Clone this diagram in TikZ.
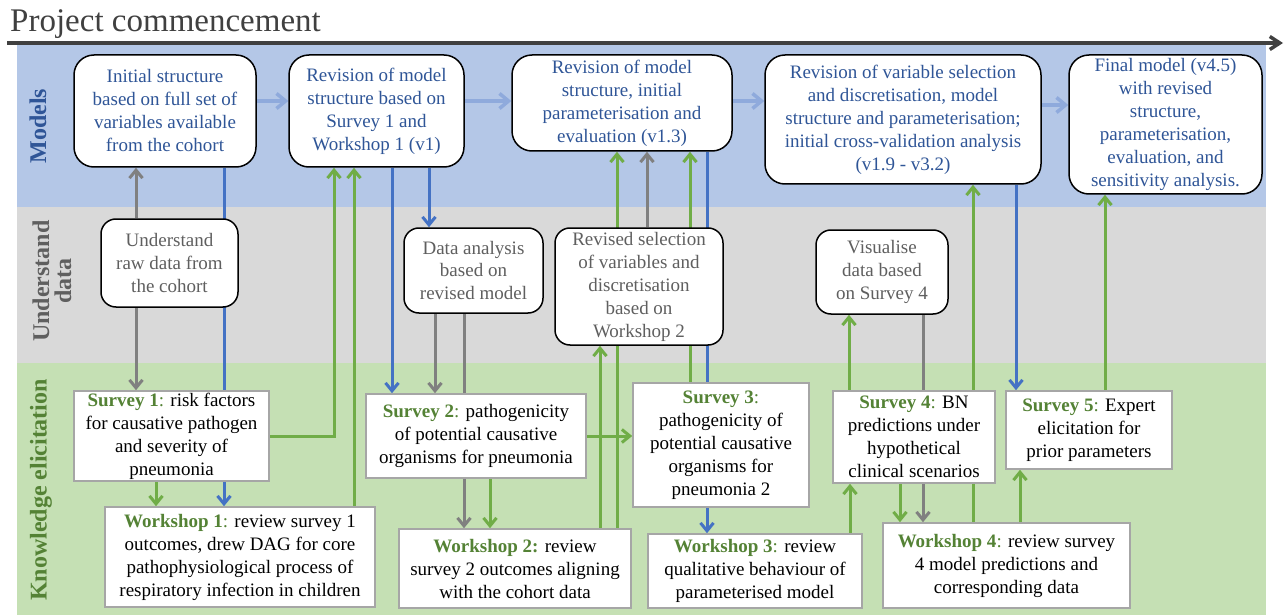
\documentclass[tikz,border=0pt]{standalone}
\usepackage{fontspec}
\setmainfont{Liberation Serif}
\usetikzlibrary{arrows.meta}
\definecolor{modblue}{RGB}{47,85,151}
\definecolor{bandblue}{RGB}{180,199,231}
\definecolor{bandgray}{RGB}{217,217,217}
\definecolor{bandgreen}{RGB}{197,224,180}
\definecolor{lineblue}{RGB}{68,114,196}
\definecolor{paleblue}{RGB}{143,170,220}
\definecolor{linegreen}{RGB}{112,173,71}
\definecolor{linegray}{RGB}{128,128,128}
\definecolor{labgreen}{RGB}{84,130,53}
\definecolor{datgray}{RGB}{95,95,95}
\definecolor{titlegray}{RGB}{64,64,64}
\definecolor{kborder}{RGB}{166,166,166}
\pgfdeclarelayer{bands}
\pgfdeclarelayer{wires}
\pgfsetlayers{bands,wires,main}
\newcommand{\klab}[1]{\textcolor{labgreen}{\textbf{#1}}}

\begin{document}
\begin{tikzpicture}[
            x=1pt, y=-1pt,
            every node/.style={font=\fontsize{19}{23}\selectfont},
            mbox/.style={draw, rectangle, line width=1.5pt, rounded corners=20pt,
                       fill=white, text=modblue, align=center, inner sep=0pt},
            dbox/.style={draw, rectangle, line width=1.5pt, rounded corners=15pt,
                       fill=white, text=datgray, align=center, inner sep=0pt},
            kbox/.style={draw=kborder, rectangle, line width=1.5pt,
                       fill=white, text=black, align=center, inner sep=0pt},
            rowlabel/.style={rotate=90, align=center, inner sep=0pt,
                       font=\fontsize{24}{22}\selectfont\bfseries},
            barrow/.style={-{Straight Barb[length=8pt,width=13pt]}, line width=3pt, color=lineblue},
            garrow/.style={-{Straight Barb[length=8pt,width=13pt]}, line width=3pt, color=linegreen},
            grarrow/.style={-{Straight Barb[length=8pt,width=13pt]}, line width=3pt, color=linegray},
            larrow/.style={-{Straight Barb[length=9pt,width=15pt]}, line width=3.5pt, color=paleblue}
        ]
            \useasboundingbox (0,0) rectangle (1286,615);

            % Rows
            \begin{pgfonlayer}{bands}
            \fill[bandblue] (17,45) rectangle (1266,207);
            \fill[bandgray] (17,207) rectangle (1266,363);
            \fill[bandgreen] (17,363) rectangle (1266,615);
            \end{pgfonlayer}

            \node[anchor=base west, inner sep=0pt, text=titlegray,
                  font=\fontsize{33}{40}\selectfont] (title) at (10,32) {Project commencement};
            \coordinate (tstart) at (7,43);
            \coordinate (tend) at (1283,43);
            \draw[-{Straight Barb[length=10pt,width=13pt]}, line width=3.5pt, color=titlegray] (tstart) -- (tend);

            \node[rowlabel, text=modblue] (lmodels) at (38,126) {Models};
            \node[rowlabel, text=datgray] (ldata) at (52,281) {Understand\\data};
            \node[rowlabel, text=labgreen] (lknow) at (41,490) {Knowledge elicitation};

            % Models
            \node[mbox, minimum width=182pt, minimum height=112pt] (init) at (165,111)
                {Initial structure\\based on full set of\\variables available\\from the cohort};
            \node[mbox, minimum width=175pt, minimum height=112pt] (rev1) at (376.5,111)
                {Revision of model\\structure based on\\Survey 1 and\\Workshop 1 (v1)};
            \node[mbox, minimum width=220pt, minimum height=96pt] (rev13) at (622,103)
                {Revision of model\\structure, initial\\parameterisation and\\evaluation (v1.3)};
            \node[mbox, minimum width=276pt, minimum height=129pt] (rev19) at (903,119.5)
                {Revision of variable selection\\and discretisation, model\\structure and parameterisation;\\initial cross-validation analysis\\(v1.9 - v3.2)};
            \node[mbox, minimum width=193pt, minimum height=139pt] (final) at (1165.5,124.5)
                {Final model (v4.5)\\with revised\\structure,\\parameterisation,\\evaluation, and\\sensitivity analysis.};

            % Understand data
            \node[dbox, minimum width=137pt, minimum height=88pt] (raw) at (169.5,263)
                {Understand\\raw data from\\the cohort};
            \node[dbox, minimum width=139pt, minimum height=85pt] (dana) at (473.5,270.5)
                {Data analysis\\based on\\revised model};
            \node[dbox, minimum width=168pt, minimum height=117pt] (revsel) at (639,286.5)
                {Revised selection\\of variables and\\discretisation\\based on\\Workshop 2};
            \node[dbox, minimum width=132pt, minimum height=84pt] (vis) at (882,272)
                {Visualise\\data based\\on Survey 4};

            % Knowledge elicitation
            \node[kbox, minimum width=195pt, minimum height=90pt] (s1) at (171.5,436)
                {\klab{Survey 1}\textcolor{labgreen}{:} risk factors\\for causative pathogen\\and severity of\\pneumonia};
            \node[kbox, minimum width=270pt, minimum height=100pt] (w1) at (240,557)
                {\klab{Workshop 1}\textcolor{labgreen}{:} review survey 1\\outcomes, drew DAG for core\\pathophysiological process of\\respiratory infection in children};
            \node[kbox, minimum width=220pt, minimum height=84pt] (s2) at (476,436)
                {\klab{Survey 2}\textcolor{labgreen}{:} pathogenicity\\of potential causative\\organisms for pneumonia};
            \node[kbox, minimum width=232pt, minimum height=79pt] (w2) at (515,568.5)
                {\klab{Workshop 2:} review\\survey 2 outcomes aligning\\with the cohort data};
            \node[kbox, minimum width=176pt, minimum height=124pt] (s3) at (721,445)
                {\klab{Survey 3}\textcolor{labgreen}{:}\\pathogenicity of\\potential causative\\organisms for\\pneumonia 2};
            \node[kbox, minimum width=214pt, minimum height=74pt] (w3) at (755,571)
                {\klab{Workshop 3}\textcolor{labgreen}{:} review\\qualitative behaviour of\\parameterised model};
            \node[kbox, minimum width=162pt, minimum height=92pt] (s4) at (914,437)
                {\klab{Survey 4}\textcolor{labgreen}{:} BN\\predictions under\\hypothetical\\clinical scenarios};
            \node[kbox, minimum width=247pt, minimum height=85pt] (w4) at (1006.5,565.5)
                {\klab{Workshop 4}\textcolor{labgreen}{:} review survey\\4 model predictions and\\corresponding data};
            \node[kbox, minimum width=166pt, minimum height=78pt] (s5) at (1089,430)
                {\klab{Survey 5}\textcolor{labgreen}{:} Expert\\elicitation for\\prior parameters};

            \begin{pgfonlayer}{wires}
            % Model versions
            \draw[larrow] (init.east |- 0,101) -- (rev1.west |- 0,101);
            \draw[larrow] (rev1.east |- 0,101) -- (rev13.west |- 0,101);
            \draw[larrow] (rev13.east |- 0,101) -- (rev19.west |- 0,101);
            \draw[larrow] (rev19.east |- 0,105) -- (final.west |- 0,105);

            % Links between rows
            \draw[grarrow] (raw.north -| 136,0) -- (init.south -| 136,0);
            \draw[grarrow] (raw.south -| 136,0) -- (s1.north -| 136,0);
            \draw[barrow] (init.south -| 224,0) -- (w1.north -| 224,0);
            \draw[garrow] (s1.south -| 156,0) -- (w1.north -| 156,0);
            \draw[garrow] (s1.east) -| (rev1.south -| 334,0);
            \draw[garrow] (w1.north -| 354,0) -- (rev1.south -| 354,0);
            \draw[barrow] (rev1.south -| 392,0) -- (s2.north -| 392,0);
            \draw[barrow] (rev1.south -| 429,0) -- (dana.north -| 429,0);
            \draw[grarrow] (dana.south -| 435,0) -- (s2.north -| 435,0);
            \draw[grarrow] (dana.south -| 464,0) -- (w2.north -| 464,0);
            \draw[garrow] (s2.south -| 490,0) -- (w2.north -| 490,0);
            \draw[garrow] (w2.north -| 600,0) -- (revsel.south -| 600,0);
            \draw[garrow] (w2.north -| 617,0) -- (rev13.south -| 617,0);
            \draw[grarrow] (revsel.north -| 647,0) -- (rev13.south -| 647,0);
            \draw[garrow] (s3.north -| 690,0) -- (rev13.south -| 690,0);
            \draw[barrow] (rev13.south -| 707,0) -- (w3.north -| 707,0);
            \draw[garrow] (s2.east) -- (s3.west |- s2.east);
            \draw[garrow] (w3.north -| 850,0) -- (s4.south -| 850,0);
            \draw[garrow] (s4.north -| 849,0) -- (vis.south -| 849,0);
            \draw[grarrow] (vis.south -| 923,0) -- (w4.north -| 923,0);
            \draw[garrow] (s4.south -| 900,0) -- (w4.north -| 900,0);
            \draw[garrow] (w4.north -| 973,0) -- (rev19.south -| 973,0);
            \draw[barrow] (rev19.south -| 1016,0) -- (s5.north -| 1016,0);
            \draw[garrow] (w4.north -| 1020,0) -- (s5.south -| 1020,0);
            \draw[garrow] (s5.north -| 1105,0) -- (final.south -| 1105,0);
            \end{pgfonlayer}
        \end{tikzpicture}
\end{document}
